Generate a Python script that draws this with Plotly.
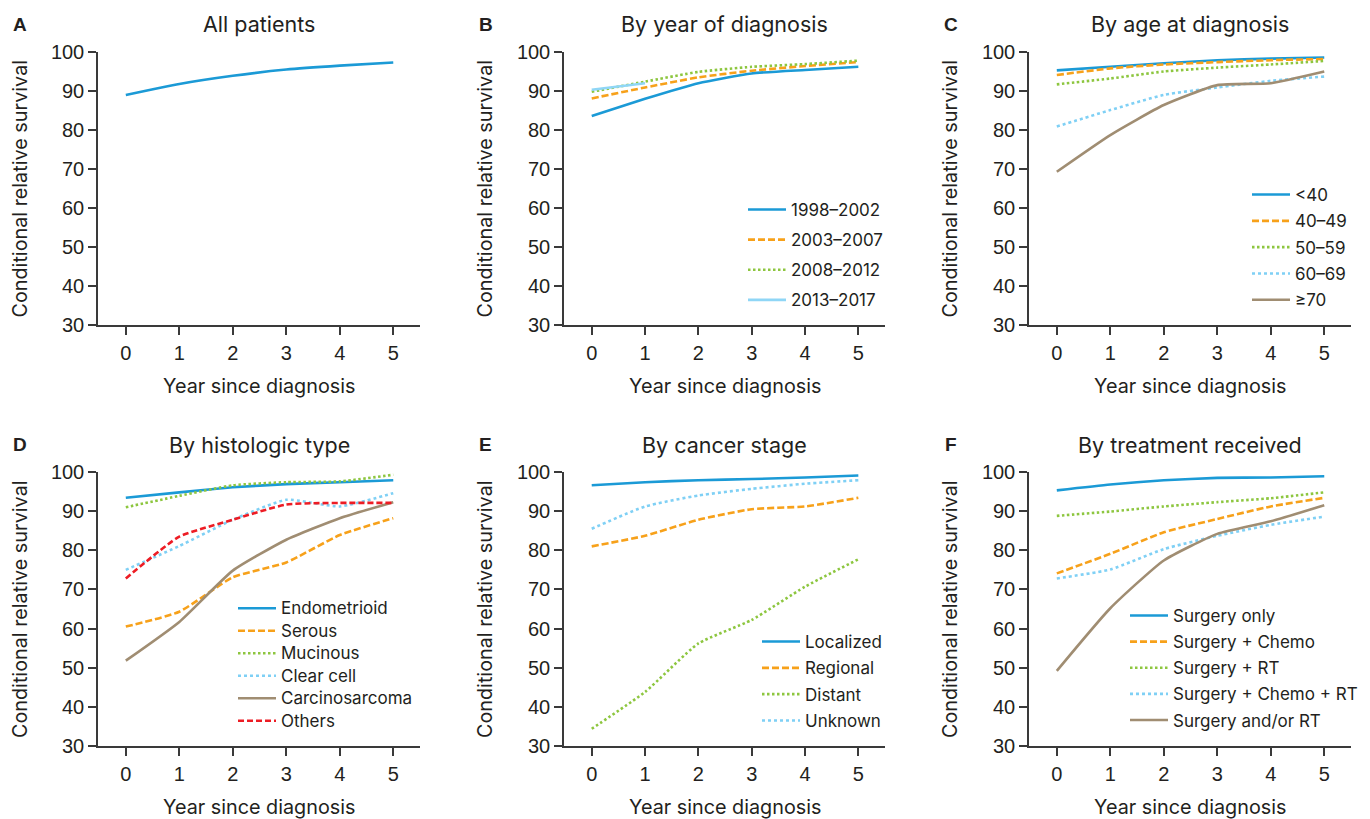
import plotly.graph_objects as go

W, H = 1370, 819

years = [0, 1, 2, 3, 4, 5]
x_ticks = [0, 1, 2, 3, 4, 5]
y_ticks = [30, 40, 50, 60, 70, 80, 90, 100]

# Panel A
A_all = [89.0, 91.8, 93.9, 95.5, 96.5, 97.3]
# Panel B
B_labels = ["1998–2002", "2003–2007", "2008–2012", "2013–2017"]
B_1998_2002 = [83.6, 88.0, 92.0, 94.5, 95.4, 96.2]
B_2003_2007 = [88.1, 90.9, 93.5, 95.2, 96.4, 97.4]
B_2008_2012 = [89.8, 92.4, 94.9, 96.2, 96.9, 97.8]
B_2013_2017 = [90.3, 92.0]
# Panel C
C_labels = ["&lt;40", "40–49", "50–59", "60–69", "≥70"]
C_lt40 = [95.3, 96.2, 97.1, 97.9, 98.3, 98.6]
C_40_49 = [94.1, 95.8, 96.8, 97.4, 97.9, 98.2]
C_50_59 = [91.7, 93.2, 95.0, 96.0, 96.8, 97.7]
C_60_69 = [80.9, 85.1, 89.0, 90.9, 92.6, 93.7]
C_ge70 = [69.3, 78.7, 86.4, 91.5, 92.0, 95.0]
# Panel D
D_labels = ["Endometrioid", "Serous", "Mucinous", "Clear cell", "Carcinosarcoma", "Others"]
D_endo = [93.4, 94.8, 96.1, 96.9, 97.4, 97.9]
D_serous = [60.5, 64.3, 73.1, 76.9, 83.9, 88.2]
D_mucinous = [91.0, 93.9, 96.6, 97.4, 97.6, 99.3]
D_clear = [75.0, 81.1, 87.8, 92.9, 91.2, 94.6]
D_carcino = [51.8, 61.7, 74.8, 82.7, 88.2, 92.3]
D_others = [72.8, 83.5, 87.8, 91.7, 92.1, 92.1]
# Panel E
E_labels = ["Localized", "Regional", "Distant", "Unknown"]
E_local = [96.6, 97.4, 97.9, 98.2, 98.6, 99.1]
E_regional = [81.0, 83.7, 87.8, 90.5, 91.2, 93.4]
E_distant = [34.4, 43.8, 56.2, 62.2, 70.7, 77.7]
E_unknown = [85.5, 91.2, 94.0, 95.7, 97.0, 97.9]
# Panel F
F_labels = ["Surgery only", "Surgery + Chemo", "Surgery + RT", "Surgery + Chemo + RT", "Surgery and/or RT"]
F_surg = [95.3, 96.8, 97.9, 98.5, 98.6, 98.9]
F_chemo = [74.1, 79.1, 84.6, 88.0, 91.2, 93.4]
F_rt = [88.8, 89.9, 91.2, 92.3, 93.3, 94.8]
F_chemo_rt = [72.8, 75.1, 80.3, 83.7, 86.5, 88.6]
F_andor = [49.2, 65.2, 77.4, 84.2, 87.4, 91.5]

titles = ["All patients", "By year of diagnosis", "By age at diagnosis",
          "By histologic type", "By cancer stage", "By treatment received"]
letters = ["A", "B", "C", "D", "E", "F"]

BLUE = "#1b9ad6"
ORANGE = "#f7a11a"
GREEN = "#8dc63f"
LBLUE = "#7fd0f5"
LBLUE_SOLID = "#8fd6f6"
BROWN = "#a08d72"
RED = "#ed1c24"
TXT = "#231f20"
AX = "#3a3a3a"

SOLID = "solid"
DASH = "7px,3px"
DOT = "2.5px,2.5px"
LDOT = "3px,3px"
RDASH = "6px,3px"

TFONT = "Inter"

# pixel layout of plot areas
col_px = [(98, 420), (564, 885), (1029, 1351)]
row_px = [(52, 325), (472, 746)]

fig = go.Figure()

def add(panel, y, name, color, dash, legend=None, x=years, label=None):
    ax = "" if panel == 1 else str(panel)
    fig.add_trace(go.Scatter(
        x=x, y=y, name=label if label else name, mode="lines",
        line=dict(color=color, width=2.6, dash=dash, shape="spline", smoothing=0.5),
        xaxis="x" + ax, yaxis="y" + ax,
        showlegend=legend is not None,
        legend=legend if legend else "legend",
        legendgroup=f"p{panel}_{name}",
    ))

def big(s):
    return f'<span style="font-size:17px">{s}</span>'

add(1, A_all, "All", BLUE, SOLID)

add(2, B_1998_2002, B_labels[0], BLUE, SOLID, "legend2")
add(2, B_2003_2007, B_labels[1], ORANGE, DASH, "legend2")
add(2, B_2008_2012, B_labels[2], GREEN, DOT, "legend2")
add(2, B_2013_2017, B_labels[3], LBLUE_SOLID, SOLID, "legend2", x=years[:2])

add(3, C_lt40, C_labels[0], BLUE, SOLID, "legend3")
add(3, C_40_49, C_labels[1], ORANGE, DASH, "legend3")
add(3, C_50_59, C_labels[2], GREEN, DOT, "legend3")
add(3, C_60_69, C_labels[3], LBLUE, LDOT, "legend3")
add(3, C_ge70, C_labels[4], BROWN, SOLID, "legend3")

add(4, D_endo, D_labels[0], BLUE, SOLID, "legend4", label=big(D_labels[0]))
add(4, D_serous, D_labels[1], ORANGE, DASH, "legend4", label=big(D_labels[1]))
add(4, D_mucinous, D_labels[2], GREEN, DOT, "legend4", label=big(D_labels[2]))
add(4, D_clear, D_labels[3], LBLUE, LDOT, "legend4", label=big(D_labels[3]))
add(4, D_carcino, D_labels[4], BROWN, SOLID, "legend4", label=big(D_labels[4]))
add(4, D_others, D_labels[5], RED, RDASH, "legend4", label=big(D_labels[5]))

add(5, E_local, E_labels[0], BLUE, SOLID, "legend5")
add(5, E_regional, E_labels[1], ORANGE, DASH, "legend5")
add(5, E_distant, E_labels[2], GREEN, DOT, "legend5")
add(5, E_unknown, E_labels[3], LBLUE, LDOT, "legend5")

add(6, F_surg, F_labels[0], BLUE, SOLID, "legend6")
add(6, F_chemo, F_labels[1], ORANGE, DASH, "legend6")
add(6, F_rt, F_labels[2], GREEN, DOT, "legend6")
add(6, F_chemo_rt, F_labels[3], LBLUE, LDOT, "legend6")
add(6, F_andor, F_labels[4], BROWN, SOLID, "legend6")

layout = dict(
    template="none",
    width=W, height=H, autosize=False,
    margin=dict(l=0, r=0, t=0, b=0, pad=0),
    paper_bgcolor="white", plot_bgcolor="white",
    font=dict(family=TFONT, color=TXT, size=17),
)

annotations = []
for i in range(6):
    r, c = divmod(i, 3)
    x0, x1 = col_px[c]
    y0, y1 = row_px[r]
    ax = "" if i == 0 else str(i + 1)
    common = dict(ticks="outside", ticklen=8, tickwidth=1.5, tickcolor=AX,
                  showline=True, linecolor=AX, linewidth=1.5, showgrid=False, zeroline=False,
                  tickfont=dict(family="Liberation Sans", size=20, color=TXT),
                  fixedrange=True, automargin=False)
    layout["xaxis" + ax] = dict(domain=[x0 / W, x1 / W], anchor="y" + ax, range=[-0.52, 5.5],
                                tickvals=x_ticks, ticklabelstandoff=1, **common)
    layout["yaxis" + ax] = dict(domain=[1 - y1 / H, 1 - y0 / H], anchor="x" + ax, range=[30, 100],
                                tickvals=y_ticks, **common)
    cx = (x0 + x1) / 2
    ty = 24 if r == 0 else 445
    annotations.append(dict(text=titles[i], x=cx / W, y=1 - ty / H, xref="paper", yref="paper",
                            xanchor="center", yanchor="middle", showarrow=False,
                            font=dict(family=TFONT, size=21.5, color=TXT)))
    lx = [20, 486, 951][c]
    annotations.append(dict(text="<b>" + letters[i] + "</b>", x=lx / W, y=1 - ty / H,
                            xref="paper", yref="paper", xanchor="center", yanchor="middle",
                            showarrow=False, font=dict(family="Liberation Sans", size=19, color=TXT)))
    yx = [20, 485, 950][c]
    annotations.append(dict(text="Conditional relative survival", x=yx / W, y=1 - ((y0 + y1) / 2) / H,
                            xref="paper", yref="paper", xanchor="center", yanchor="middle",
                            textangle=-90, showarrow=False,
                            font=dict(family=TFONT, size=19.8, color=TXT)))
    xty = 386 if r == 0 else 807
    annotations.append(dict(text="Year since diagnosis", x=cx / W, y=1 - xty / H,
                            xref="paper", yref="paper", xanchor="center", yanchor="middle",
                            showarrow=False, font=dict(family=TFONT, size=19.8, color=TXT)))
layout["annotations"] = annotations

def legend_at(px_x, px_y, size=17, gap=1):
    return dict(x=px_x / W, y=1 - px_y / H, xanchor="left", yanchor="top",
                bgcolor="rgba(0,0,0,0)", borderwidth=0, traceorder="grouped",
                tracegroupgap=gap, itemwidth=38,
                font=dict(family=TFONT, size=size, color=TXT))

layout["legend2"] = legend_at(743, 192, gap=5)
layout["legend3"] = legend_at(1247, 177, gap=1.2)
layout["legend4"] = legend_at(233, 592, size=15, gap=0)
layout["legend5"] = legend_at(757, 624, gap=1.2)
layout["legend6"] = legend_at(1125, 598, gap=1)

fig.update_layout(**layout)
fig.write_html("out.html", config={"displayModeBar": False},
               post_script="document.body.style.margin='0';document.body.style.overflow='hidden';")
